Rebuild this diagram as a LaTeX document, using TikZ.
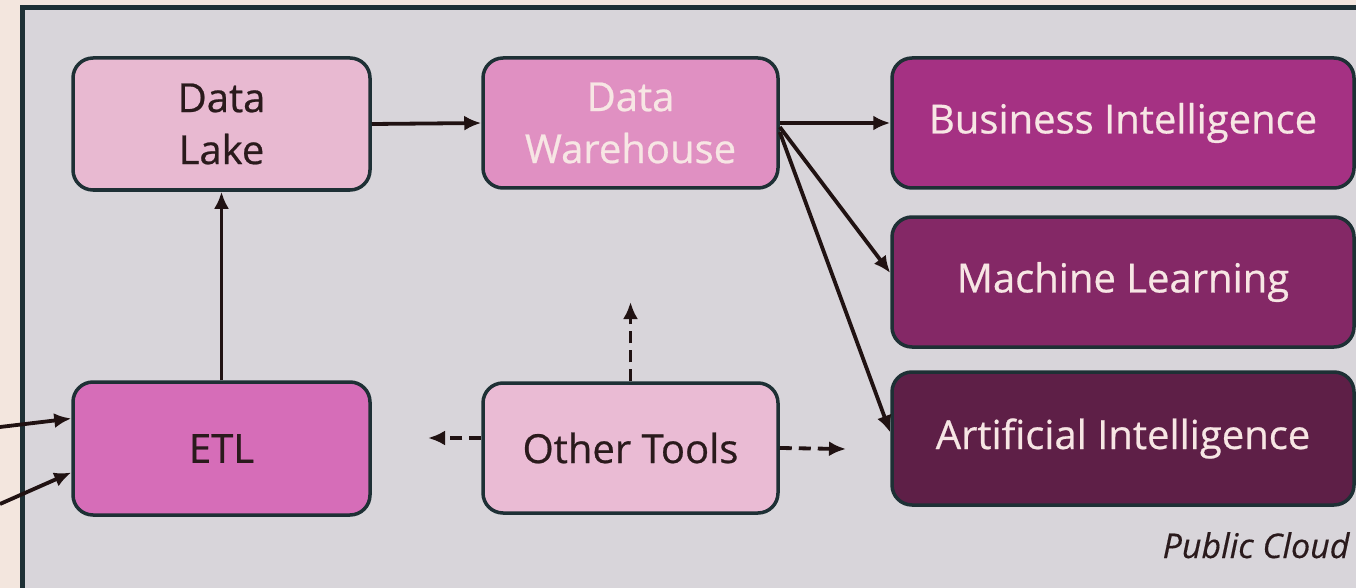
\documentclass[tikz,border=0pt]{standalone}
\usepackage{fontspec}
\setmainfont{Open Sans}
\newfontfamily\medfont{Open Sans}[FakeBold=0.6]
\newfontfamily\meditfont{Open Sans Italic}[FakeBold=0.4]
\usetikzlibrary{arrows.meta,calc}
\definecolor{peach}{HTML}{F3E6DE}
\definecolor{panelbg}{HTML}{D8D5DA}
\definecolor{edge}{HTML}{1E3035}
\definecolor{arrowc}{HTML}{201212}
\definecolor{darktext}{HTML}{2A1A1C}
\definecolor{lighttext}{HTML}{F7E6E4}
\definecolor{lakefill}{HTML}{E8B9D1}
\definecolor{whfill}{HTML}{E090C2}
\definecolor{etlfill}{HTML}{D66DB8}
\definecolor{otfill}{HTML}{EABBD4}
\definecolor{bifill}{HTML}{A53183}
\definecolor{mlfill}{HTML}{842866}
\definecolor{aifill}{HTML}{5E1F47}
\tikzset{
  box/.style={draw=edge, line width=3.5pt, rounded corners=20pt, inner sep=0pt,
    align=center, font=\medfont\fontsize{40}{52}\selectfont},
  darkbox/.style={box, text=darktext},
  lightbox/.style={box, text=lighttext},
  flow/.style={draw=arrowc, line width=3.8pt, -{Latex[length=17pt,width=15pt]}},
  dflow/.style={flow, dash pattern=on 12pt off 7pt},
}
\begin{document}
\begin{tikzpicture}[x=1pt,y=-1pt]
\useasboundingbox (0,0) rectangle (1356,588);
\fill[peach] (0,0) rectangle (1356,588);
\draw[edge, fill=panelbg, line width=4.5pt] (22.5,7.5) rectangle (1420,660);

\node[darkbox, fill=lakefill, minimum width=297pt, minimum height=132pt] (lake) at (221.5,124) {Data\\Lake};
\node[lightbox, fill=whfill, minimum width=295pt, minimum height=130pt] (wh) at (630.5,123) {Data\\Warehouse};
\node[lightbox, fill=bifill, minimum width=462pt, minimum height=130pt] (bi) at (1123,123) {Business Intelligence};
\node[lightbox, fill=mlfill, minimum width=462pt, minimum height=130pt] (ml) at (1123,282) {Machine Learning};
\node[lightbox, fill=aifill, minimum width=462pt, minimum height=133pt] (ai) at (1123,438.5) {Artificial Intelligence};
\node[darkbox, fill=etlfill, minimum width=297pt, minimum height=133pt] (etl) at (221.5,448.5) {ETL};
\node[darkbox, fill=otfill, minimum width=295pt, minimum height=130pt] (ot) at (630.5,448) {Other Tools};

\node[anchor=base east, text=darktext, font=\meditfont\fontsize{34}{38}\selectfont] (pc) at (1353,558) {Public Cloud};

\coordinate (in1) at (0,427);
\coordinate (in2) at (0,504);
\coordinate (otl) at (428,438);
\coordinate (otr) at (846,449);
\coordinate (otu) at (630.5,302);

\draw[flow] (lake.east) -- (wh.west);
\draw[flow] (etl.north) -- (lake.south);
\draw[flow] (wh.east) -- (bi.west);
\draw[flow] ([yshift=-4pt]wh.east) -- ([yshift=9pt]ml.west);
\draw[flow] ([yshift=-9pt]wh.east) -- ([yshift=6pt]ai.west);
\draw[flow] (in1) -- ([yshift=30pt]etl.west);
\draw[flow] (in2) -- ([yshift=-24pt]etl.west);
\draw[dflow] ([yshift=10pt]ot.west) -- (otl);
\draw[dflow] (ot.east) -- (otr);
\draw[dflow] (ot.north) -- (otu);
\end{tikzpicture}
\end{document}
